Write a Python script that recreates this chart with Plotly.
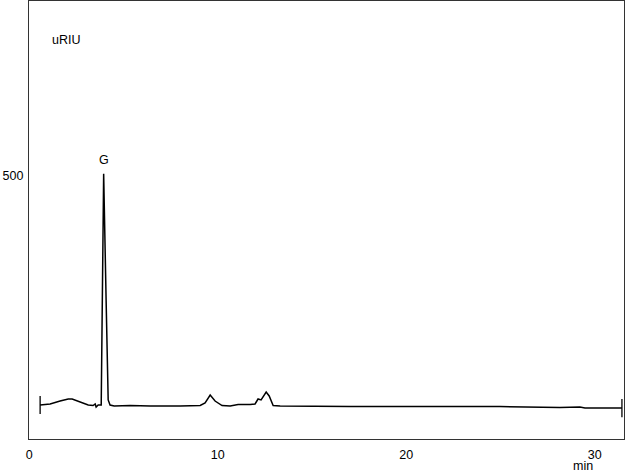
import plotly.graph_objects as go

# Retention time (min) and detector response (uRIU)
times = [0.58, 1.11, 1.64, 2.07, 2.28, 2.70, 3.13, 3.39, 3.50, 3.55, 3.66, 3.82,
         3.87, 3.95, 4.08, 4.19, 4.29, 4.51, 5.36, 6.42, 8.01, 9.07, 9.33, 9.60,
         9.86, 10.23, 10.66, 11.08, 11.72, 11.98, 12.14, 12.30, 12.57, 12.73,
         12.94, 13.31, 17.02, 19.67, 22.32, 22.85, 24.97, 28.15, 29.21, 29.48, 31.44]
signal = [0.0, 2.2, 8.7, 13.1, 13.1, 6.6, 0.0, -1.1, 2.2, -4.4, 0.0, 0.0,
          229, 505, 229, 11, 0.0, -2.2, -1.1, -2.2, -2.2, -1.1, 4.4, 21.8,
          8.7, -1.1, -2.2, 1.1, 1.1, 2.2, 13.1, 11.0, 28.4, 19.7,
          -1.1, -2.2, -3.3, -3.3, -3.3, -2.2, -3.3, -5.5, -4.4, -6.6, -6.6]

x_ticks = [0, 10, 20, 30]
y_ticks = [500]
peak_label = "G"
y_unit = "uRIU"
x_unit = "min"

fig = go.Figure()
fig.add_trace(go.Scatter(x=times, y=signal, mode="lines",
                         line=dict(color="black", width=1.5), showlegend=False,
                         hoverinfo="skip"))
fig.add_trace(go.Scatter(x=[times[0], times[-1]], y=[signal[0], signal[-1]],
                         mode="markers",
                         marker=dict(symbol="line-ns", size=13,
                                     line=dict(color="black", width=1.3)),
                         showlegend=False, hoverinfo="skip"))

peak_i = signal.index(max(signal))
fig.add_annotation(x=times[peak_i], y=signal[peak_i], text=peak_label,
                   showarrow=False, yanchor="bottom", yshift=5,
                   font=dict(size=12.5, color="black"))
fig.add_annotation(xref="paper", yref="paper", x=0.035, y=0.911, text=y_unit,
                   showarrow=False, xanchor="left", yanchor="middle",
                   font=dict(size=12.5, color="black"))
fig.add_annotation(xref="paper", yref="paper", x=0.931, y=-0.062, text=x_unit,
                   showarrow=False, xanchor="center", yanchor="middle",
                   font=dict(size=12.5, color="black"))

fig.update_layout(
    width=626, height=472,
    margin=dict(l=29, r=2, t=1, b=33, autoexpand=False),
    paper_bgcolor="white", plot_bgcolor="white",
    font=dict(family="Liberation Sans, Arial, sans-serif", size=12.5, color="black"),
    xaxis=dict(range=[-0.01, 31.55], tickvals=x_ticks, ticks="", showgrid=False,
               zeroline=False, showline=True, mirror=True, linecolor="#333",
               linewidth=1.2, ticklabelstandoff=4, automargin=False),
    yaxis=dict(range=[-74.2, 882], tickvals=y_ticks, ticks="", showgrid=False,
               zeroline=False, showline=True, mirror=True, linecolor="#333",
               linewidth=1.2, ticklabelstandoff=2, automargin=False),
)

fig.write_html("out.html", config={"displayModeBar": False},
               post_script="document.body.style.margin='0';")
